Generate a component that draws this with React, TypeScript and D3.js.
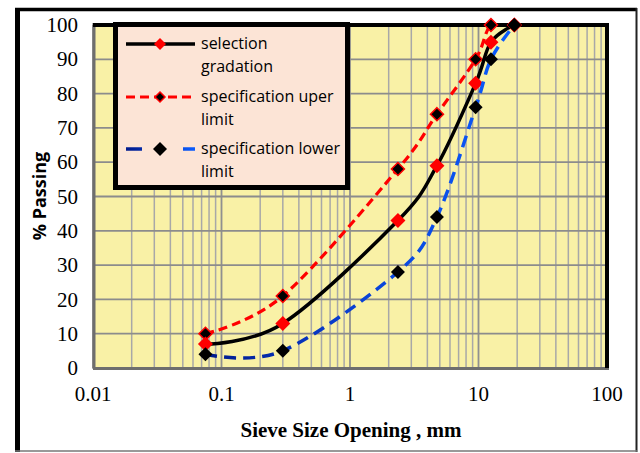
import React from "react";
import * as d3 from "d3";

const sieve = [0.075, 0.3, 2.36, 4.75, 9.5, 12.5, 19];
const selection = [7, 13, 43, 59, 83, 95, 100];
const upper = [10, 21, 58, 74, 90, 100, 100];
const lower = [4, 5, 28, 44, 76, 90, 100];
const xTicks = [0.01, 0.1, 1, 10, 100];
const xTickLabels = ["0.01", "0.1", "1", "10", "100"];
const yTicks = [0, 10, 20, 30, 40, 50, 60, 70, 80, 90, 100];
const legendLabels = [
  ["selection", "gradation"],
  ["specification uper", "limit"],
  ["specification lower", "limit"],
];

const W = 640;
const H = 453;
const PL = 93, PR = 607, PT = 25, PB = 368;

export default function App() {
  const x = d3.scaleLog().domain([0.01, 100]).range([PL, PR]);
  const y = d3.scaleLinear().domain([0, 100]).range([PB, PT]);

  const minor: number[] = [];
  [0.01, 0.1, 1, 10].forEach((d) => {
    for (let m = 2; m <= 9; m++) minor.push(d * m);
  });

  const line = d3
    .line<[number, number]>()
    .x((d) => x(d[0]))
    .y((d) => y(d[1]))
    .curve(d3.curveCardinal.tension(0));

  const pts = (vals: number[]) => sieve.map((s, i) => [s, vals[i]] as [number, number]);
  const diamond = (r: number) => `M0,${-r}L${r},0L0,${r}L${-r},0Z`;

  const legendX1 = 126, legendX2 = 195, legendMid = 160;
  const legendYs = [44, 97, 149];

  return (
    <svg
      width={W}
      height={H}
      style={{ position: "absolute", left: 0, top: 0, background: "#fff" }}
    >
      <defs>
        <linearGradient id="blueGrad" gradientUnits="userSpaceOnUse" x1={x(0.075)} x2={x(19)} y1={0} y2={0}>
          <stop offset="0" stopColor="#001a8c" />
          <stop offset="0.45" stopColor="#0a3fd0" />
          <stop offset="1" stopColor="#0a5cff" />
        </linearGradient>
        <linearGradient id="blueGradLeg" gradientUnits="userSpaceOnUse" x1={legendX1} x2={legendX2} y1={0} y2={0}>
          <stop offset="0" stopColor="#001a8c" />
          <stop offset="1" stopColor="#0a5cff" />
        </linearGradient>
        <clipPath id="plotClip">
          <rect x={PL} y={PT} width={PR - PL} height={PB - PT} />
        </clipPath>
      </defs>

      {/* outer frame */}
      <rect x={0} y={0} width={W} height={H} fill="#fff" />
      <line x1={17.5} y1={8} x2={17.5} y2={452} stroke="#000" strokeWidth={5} />
      <line x1={15} y1={9.5} x2={637} y2={9.5} stroke="#000" strokeWidth={3.5} />
      <line x1={636.5} y1={8} x2={636.5} y2={452} stroke="#222" strokeWidth={2} />
      <line x1={15} y1={451} x2={637} y2={451} stroke="#777" strokeWidth={1.5} />

      {/* plot background */}
      <rect x={PL} y={PT} width={PR - PL} height={PB - PT} fill="#f9f1a6" />

      {/* grid */}
      {minor.map((v, i) => (
        <line key={"mn" + i} x1={x(v)} x2={x(v)} y1={PT} y2={PB} stroke="#a8a8a8" strokeWidth={1.5} />
      ))}
      {xTicks.map((v, i) => (
        <line key={"mj" + i} x1={x(v)} x2={x(v)} y1={PT} y2={PB} stroke="#909090" strokeWidth={1.8} />
      ))}
      {yTicks.map((v, i) => (
        <line key={"hy" + i} x1={PL} x2={PR} y1={y(v)} y2={y(v)} stroke="#8c8c8c" strokeWidth={1.8} />
      ))}

      {/* plot border */}
      <line x1={PL + 1} y1={PT - 2} x2={PL + 1} y2={PB + 1} stroke="#6e6e6e" strokeWidth={3} />
      <line x1={PL} y1={PB + 0.5} x2={PR + 2} y2={PB + 0.5} stroke="#6e6e6e" strokeWidth={3} />
      <line x1={PL} y1={PT} x2={PR + 2} y2={PT} stroke="#000" strokeWidth={4} />
      <line x1={PR} y1={PT} x2={PR} y2={PB} stroke="#000" strokeWidth={4} />

      {/* upper limit */}
      <path d={line(pts(upper)) || ""} clipPath="url(#plotClip)" fill="none" stroke="#ff0000" strokeWidth={3.2} strokeDasharray="9,5" />
      {upper.map((v, i) => (
        <path key={"u" + i} d={diamond(6.5)} transform={`translate(${x(sieve[i])},${y(v)})`} fill="#000" stroke="#ff0000" strokeWidth={1.5} />
      ))}

      {/* selection gradation */}
      <path d={line(pts(selection)) || ""} fill="none" stroke="#000" strokeWidth={3.5} />
      {selection.map((v, i) => (
        <path key={"s" + i} d={diamond(7.5)} transform={`translate(${x(sieve[i])},${y(v)})`} fill="#ff0000" />
      ))}

      {/* lower limit */}
      <path d={line(pts(lower)) || ""} fill="none" stroke="url(#blueGrad)" strokeWidth={3.5} strokeDasharray="12,7" />
      {lower.map((v, i) => (
        <path key={"l" + i} d={diamond(7)} transform={`translate(${x(sieve[i])},${y(v)})`} fill="#000" />
      ))}

      {/* legend */}
      <rect x={115.5} y={24.5} width={232} height={163} fill="#fce4d6" stroke="#000" strokeWidth={5} />
      <line x1={legendX1} x2={legendX2} y1={legendYs[0]} y2={legendYs[0]} stroke="#000" strokeWidth={3.5} />
      <path d={diamond(6)} transform={`translate(${legendMid},${legendYs[0]})`} fill="#ff0000" />
      <line x1={legendX1} x2={legendX2} y1={legendYs[1]} y2={legendYs[1]} stroke="#ff0000" strokeWidth={3.2} strokeDasharray="9,5" />
      <path d={diamond(5)} transform={`translate(${legendMid},${legendYs[1]})`} fill="#000" stroke="#ff0000" strokeWidth={1.5} />
      <line x1={legendX1} x2={142} y1={legendYs[2]} y2={legendYs[2]} stroke="url(#blueGradLeg)" strokeWidth={3.5} />
      <line x1={183} x2={legendX2} y1={legendYs[2]} y2={legendYs[2]} stroke="url(#blueGradLeg)" strokeWidth={3.5} />
      <path d={diamond(7)} transform={`translate(${legendMid},${legendYs[2]})`} fill="#000" />
      {legendLabels.map((lines, i) => (
        <text key={"lg" + i} x={201} y={legendYs[i] + 5} fontFamily="'Open Sans', sans-serif" fontSize={16} fill="#000">
          {lines.map((t, j) => (
            <tspan key={j} x={201} dy={j === 0 ? 0 : 23}>
              {t}
            </tspan>
          ))}
        </text>
      ))}

      {/* y tick labels */}
      {yTicks.map((v, i) => (
        <text key={"yl" + i} x={78} y={y(v)} dy="0.34em" textAnchor="end" fontFamily="'Liberation Serif', serif" fontSize={21} fill="#000">
          {v}
        </text>
      ))}
      {/* x tick labels */}
      {xTicks.map((v, i) => (
        <text key={"xl" + i} x={x(v)} y={401} textAnchor="middle" fontFamily="'Liberation Serif', serif" fontSize={21} fill="#000">
          {xTickLabels[i]}
        </text>
      ))}

      {/* axis titles */}
      <text x={351} y={437} textAnchor="middle" fontFamily="'Liberation Serif', serif" fontWeight="bold" fontSize={21} fill="#000">
        Sieve Size Opening , mm
      </text>
      <text transform="translate(46,196) rotate(-90)" textAnchor="middle" fontFamily="'Open Sans', sans-serif" fontWeight="bold" fontSize={18} fill="#000">
        % Passing
      </text>
    </svg>
  );
}
